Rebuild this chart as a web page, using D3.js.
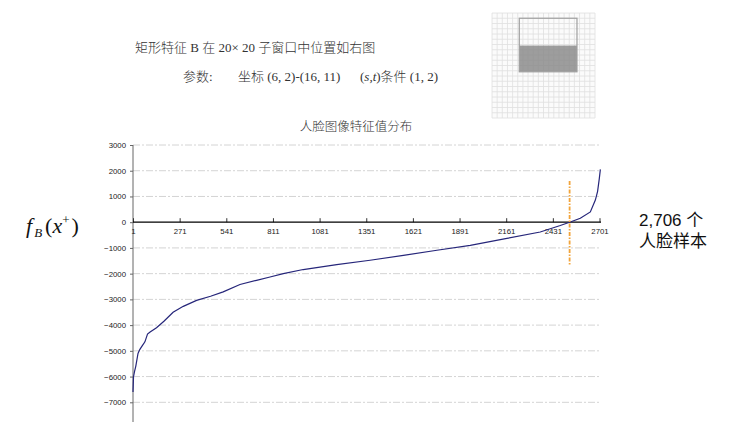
<!DOCTYPE html>
<html><head><meta charset="utf-8">
<script src="https://cdn.jsdelivr.net/npm/d3@7"></script>
<style>body{margin:0;background:#fff}svg{display:block}</style>
</head><body>
<svg id="c" width="741" height="422"></svg>
<script>
// ---- data ----
const xTicks = [1, 271, 541, 811, 1081, 1351, 1621, 1891, 2161, 2431, 2701];
const yTicks = [3000, 2000, 1000, 0, -1000, -2000, -3000, -4000, -5000, -6000, -7000];
const sampleIndex = [1, 4, 10, 17, 30, 40, 55, 70, 85, 100, 137, 180, 233, 292, 369, 450, 523, 620, 716, 794, 871, 986, 1180, 1373, 1566, 1760, 1953, 2165, 2358, 2474, 2528, 2590, 2648, 2677, 2690, 2700, 2706];
const featureValue = [-6600, -6000, -5800, -5600, -5100, -4950, -4800, -4650, -4350, -4270, -4100, -3850, -3500, -3270, -3040, -2880, -2710, -2420, -2260, -2130, -2000, -1840, -1650, -1480, -1290, -1090, -900, -630, -380, -130, 0, 150, 400, 860, 1200, 1700, 2050];
const threshold = {index: 2528, from: 1600, to: -1700};
const title = "人脸图像特征值分布";
const header1 = "矩形特征 B 在 20× 20 子窗口中位置如右图";
const rightLabel = ["2,706 个", "人脸样本"];
// feature rectangle in 20x20 window (cell units)
const gridN = 20;
const featRect = {x0: 5.3, x1: 16.5, y0: 1, ymid: 6.2, y1: 11.2};

const svg = d3.select("#c");
const x = d3.scaleLinear().domain([1, 2701]).range([133, 599.5]);
const y = d3.scaleLinear().domain([-7000, 3000]).range([402.3, 145]);

// gridlines
svg.append("g").selectAll("line").data(yTicks.filter(d => d !== 0)).join("line")
  .attr("x1", 133).attr("x2", 601).attr("y1", d => y(d)).attr("y2", d => y(d))
  .attr("stroke", "#d4d4d4").attr("stroke-width", 1).attr("stroke-dasharray", "7,2,2,2");

// y axis
const ya = svg.append("g").attr("transform", "translate(133,0)")
  .call(d3.axisLeft(y).tickValues(yTicks).tickSize(3).tickPadding(4).tickFormat(d3.format("d")));
ya.select(".domain").remove();
ya.append("line").attr("x1", 0).attr("x2", 0).attr("y1", 145).attr("y2", 422).attr("stroke", "#666");
ya.selectAll("text").attr("font-family", "Liberation Sans, Arial, sans-serif").attr("font-size", 7.8).attr("fill", "#222");
ya.selectAll(".tick line").attr("stroke", "#666");

// x axis at 0
const xa = svg.append("g").attr("transform", `translate(0,${y(0)})`)
  .call(d3.axisTop(x).tickValues(xTicks).tickSize(4).tickFormat(d3.format("d")));
xa.select(".domain").remove();
xa.append("line").attr("x1", 133).attr("x2", 601).attr("stroke", "#000").attr("stroke-width", 1.3);
xa.selectAll(".tick line").attr("stroke", "#333");
xa.selectAll("text").attr("y", 12).attr("dy", "0").attr("font-family", "Liberation Sans, Arial, sans-serif").attr("font-size", 7.8).attr("fill", "#222");

// curve
const pts = sampleIndex.map((d, i) => [d, featureValue[i]]);
svg.append("path").datum(pts)
  .attr("d", d3.line().x(d => x(d[0])).y(d => y(d[1])))
  .attr("fill", "none").attr("stroke", "#26267a").attr("stroke-width", 1.2);

// threshold line
svg.append("line").attr("x1", x(threshold.index)).attr("x2", x(threshold.index))
  .attr("y1", y(threshold.from)).attr("y2", y(threshold.to))
  .attr("stroke", "#f2a43a").attr("stroke-width", 1.8).attr("stroke-dasharray", "4,1.5,1.5,1.5");

// title
svg.append("text").attr("x", 356).attr("y", 131).attr("text-anchor", "middle")
  .attr("font-family", "Noto Sans CJK SC").attr("font-size", 12.5).attr("font-weight", 300).attr("fill", "#333").text(title);

// header texts
const serif = "Liberation Serif, Noto Sans CJK SC";
svg.append("text").attr("x", 135).attr("y", 52).attr("font-family", serif).attr("font-size", 13).attr("font-weight", 300).attr("fill", "#333").text(header1);
const h2 = svg.append("text").attr("y", 81).attr("font-family", serif).attr("font-size", 13).attr("font-weight", 300).attr("fill", "#333");
h2.append("tspan").attr("x", 183).text("参数:");
h2.append("tspan").attr("x", 238).text("坐标 (6, 2)-(16, 11)");
h2.append("tspan").attr("x", 360).text("(");
h2.append("tspan").attr("font-style", "italic").text("s,t");
h2.append("tspan").text(")条件 (1, 2)");

// window grid image
const gx = d3.scaleLinear().domain([0, gridN]).range([492, 595]);
const gy = d3.scaleLinear().domain([0, gridN]).range([13, 118]);
const g = svg.append("g");
g.append("rect").attr("x", gx(0)).attr("y", gy(0)).attr("width", gx(gridN) - gx(0)).attr("height", gy(gridN) - gy(0)).attr("fill", "#fbfbfb");
g.selectAll("line.v").data(d3.range(gridN + 1)).join("line")
  .attr("x1", d => gx(d)).attr("x2", d => gx(d)).attr("y1", gy(0)).attr("y2", gy(gridN))
  .attr("stroke", "#e0e0e0").attr("stroke-width", 0.8);
g.selectAll("line.h").data(d3.range(gridN + 1)).join("line")
  .attr("y1", d => gy(d)).attr("y2", d => gy(d)).attr("x1", gx(0)).attr("x2", gx(gridN))
  .attr("stroke", "#e0e0e0").attr("stroke-width", 0.8);
g.append("rect").attr("x", gx(featRect.x0)).attr("y", gy(featRect.ymid)).attr("width", gx(featRect.x1) - gx(featRect.x0)).attr("height", gy(featRect.y1) - gy(featRect.ymid))
  .attr("fill", "#8c8c8c").attr("fill-opacity", 0.85);
g.append("rect").attr("x", gx(featRect.x0)).attr("y", gy(featRect.y0)).attr("width", gx(featRect.x1) - gx(featRect.x0)).attr("height", gy(featRect.y1) - gy(featRect.y0))
  .attr("fill", "none").attr("stroke", "#a0a0a0").attr("stroke-width", 1.2);

// left label f_B(x+)
const fl = svg.append("text").attr("x", 26).attr("y", 233).attr("font-family", "Liberation Serif, serif").attr("font-size", 22).attr("fill", "#111");
fl.append("tspan").attr("font-style", "italic").text("f");
fl.append("tspan").attr("font-style", "italic").attr("font-size", 13).attr("dy", 4).attr("dx", 2).text("B");
fl.append("tspan").attr("dy", -4).attr("dx", 3).text("(");
fl.append("tspan").attr("font-style", "italic").text("x");
fl.append("tspan").attr("font-size", 13).attr("dy", -9).text("+");
fl.append("tspan").attr("dy", 9).attr("dx", 2).text(")");

// right label
svg.append("g").selectAll("text").data(rightLabel).join("text")
  .attr("x", 639).attr("y", (d, i) => 226 + i * 21)
  .attr("font-family", "Liberation Sans, Noto Sans CJK SC").attr("font-size", 17).attr("fill", "#111").text(d => d);
</script>
</body></html>
